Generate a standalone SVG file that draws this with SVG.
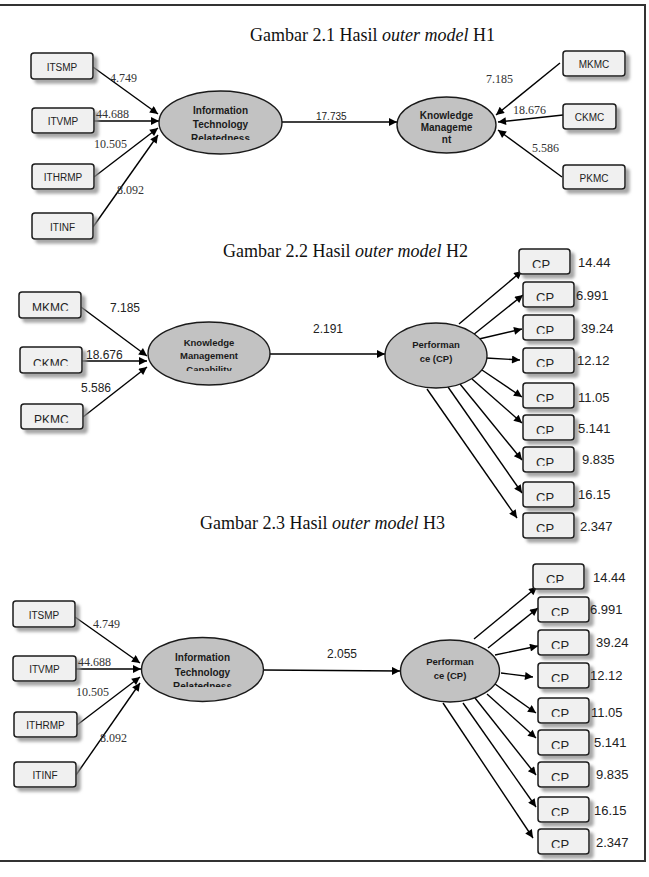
<svg xmlns="http://www.w3.org/2000/svg" width="649" height="877" viewBox="0 0 649 877">
<style>
.frame{fill:none;stroke:#333;stroke-width:2}
.box{fill:#f0f0f0;stroke:#1a1a1a;stroke-width:1.5;filter:url(#sh)}
.ell{fill:#c2c2c2;stroke:#1a1a1a;stroke-width:1.4}
.bl{font-family:"Liberation Sans",Arial,sans-serif;font-size:10px;fill:#222;text-anchor:middle}
.bl2{font-family:"Liberation Sans",Arial,sans-serif;font-size:12px;fill:#222}
.cp{font-family:"Liberation Sans",Arial,sans-serif;font-size:13px;fill:#222}
.et{font-family:"Liberation Sans",Arial,sans-serif;font-weight:bold;font-size:10px;fill:#1a1a1a;text-anchor:middle}
.et2{font-family:"Liberation Sans",Arial,sans-serif;font-weight:bold;font-size:9.5px;fill:#1a1a1a;text-anchor:middle}
.tn{font-family:"Liberation Serif","Times New Roman",serif;font-size:12px;fill:#333}
.an{font-family:"Liberation Sans",Arial,sans-serif;font-size:12px;fill:#222}
.an10{font-family:"Liberation Sans",Arial,sans-serif;font-size:10px;fill:#222}
.val{font-family:"Liberation Sans",Arial,sans-serif;font-size:13px;fill:#222}
.title{font-family:"Liberation Serif","Times New Roman",serif;font-size:18px;fill:#111}
.conn line{stroke:#000;stroke-width:1.4;marker-end:url(#ah)}
</style>
<defs>
<marker id="ah" viewBox="0 0 10 10" refX="10" refY="5" markerWidth="10" markerHeight="8" markerUnits="userSpaceOnUse" orient="auto"><path d="M0,0 L10,5 L0,10 z" fill="#000"/></marker>
<filter id="sh" x="-20%" y="-20%" width="150%" height="160%"><feDropShadow dx="4" dy="4" stdDeviation="1.5" flood-color="#8a8a8a" flood-opacity="0.75"/></filter>
<clipPath id="cutBox"><rect x="-5" y="0" width="80" height="18.8"/></clipPath>
<clipPath id="cutEll"><rect x="-70" y="-40" width="140" height="57.5"/></clipPath>
</defs>
<rect width="649" height="877" fill="#fff"/>
<path class="frame" d="M0,5 H645 V861 H0"/>

<text class="title" x="250" y="41">Gambar 2.1 Hasil <tspan font-style="italic">outer model</tspan> H1</text>
<text class="title" x="223" y="257">Gambar 2.2 Hasil <tspan font-style="italic">outer model</tspan> H2</text>
<text class="title" x="200" y="529">Gambar 2.3 Hasil <tspan font-style="italic">outer model</tspan> H3</text>

<g id="connectors" class="conn">
<line x1="93" y1="67" x2="158" y2="114"/>
<line x1="94" y1="121" x2="159" y2="121"/>
<line x1="94" y1="177" x2="158" y2="128"/>
<line x1="93" y1="227" x2="158" y2="135"/>
<line x1="282" y1="122" x2="397" y2="122"/>
<line x1="560" y1="63" x2="496" y2="115"/>
<line x1="563" y1="115" x2="498" y2="122"/>
<line x1="562" y1="177" x2="498" y2="130"/>

<line x1="81" y1="307" x2="147" y2="356"/>
<line x1="82" y1="361" x2="147" y2="361"/>
<line x1="83" y1="417" x2="147" y2="367"/>
<line x1="269" y1="354" x2="385" y2="354"/>
<line x1="459" y1="324" x2="522" y2="271"/>
<line x1="473" y1="335" x2="523" y2="295"/>
<line x1="479" y1="339" x2="522" y2="329"/>
<line x1="486" y1="358" x2="520" y2="360"/>
<line x1="482" y1="370" x2="522" y2="397"/>
<line x1="472" y1="379" x2="522" y2="423"/>
<line x1="460" y1="384" x2="522" y2="460"/>
<line x1="448" y1="387" x2="522" y2="493"/>
<line x1="427" y1="389" x2="517" y2="518"/>

<line x1="75" y1="617" x2="140" y2="663"/>
<line x1="76" y1="669" x2="141" y2="669"/>
<line x1="77" y1="725" x2="140" y2="677"/>
<line x1="76" y1="775" x2="140" y2="683"/>
<line x1="263" y1="670" x2="400" y2="671"/>
<line x1="474" y1="639" x2="537" y2="587"/>
<line x1="488" y1="648" x2="538" y2="608"/>
<line x1="495" y1="655" x2="538" y2="646"/>
<line x1="501" y1="673" x2="533" y2="677"/>
<line x1="495" y1="684" x2="536" y2="713"/>
<line x1="487" y1="694" x2="536" y2="738"/>
<line x1="475" y1="698" x2="536" y2="775"/>
<line x1="463" y1="703" x2="536" y2="807"/>
<line x1="443" y1="703" x2="533" y2="838"/>
</g>

<!-- H1 nodes -->
<g id="h1-itsmp" transform="translate(31,53)"><rect class="box" width="62" height="26" rx="3"/><text class="bl" x="31" y="17.5">ITSMP</text></g>
<g id="h1-itvmp" transform="translate(32,108)"><rect class="box" width="62" height="25" rx="3"/><text class="bl" x="31" y="17">ITVMP</text></g>
<g id="h1-ithrmp" transform="translate(32,164)"><rect class="box" width="62" height="25" rx="3"/><text class="bl" x="31" y="17">ITHRMP</text></g>
<g id="h1-itinf" transform="translate(32,213)"><rect class="box" width="61" height="26" rx="3"/><text class="bl" x="30.5" y="17.5">ITINF</text></g>
<g id="h1-itr" transform="translate(220.5,122.5)"><ellipse class="ell" rx="61.5" ry="31.5"/><g clip-path="url(#cutEll)"><text class="et" y="-8.5">Information</text><text class="et" y="5.5">Technology</text><text class="et" y="19.5">Relatedness</text></g></g>
<g id="h1-km" transform="translate(446.5,125)"><ellipse class="ell" rx="49.5" ry="28"/><text class="et" y="-6">Knowledge</text><text class="et" y="6">Manageme</text><text class="et" y="18">nt</text></g>
<g id="h1-mkmc" transform="translate(563,51)"><rect class="box" width="62" height="25" rx="3"/><text class="bl" x="31" y="17">MKMC</text></g>
<g id="h1-ckmc" transform="translate(563,104)"><rect class="box" width="53" height="25" rx="3"/><text class="bl" x="26.5" y="17">CKMC</text></g>
<g id="h1-pkmc" transform="translate(563,165)"><rect class="box" width="62" height="24" rx="3"/><text class="bl" x="31" y="16.5">PKMC</text></g>

<!-- H2 nodes -->
<g id="h2-mkmc" transform="translate(19,292)"><rect class="box" width="62" height="26" rx="3"/><text class="bl2" x="13" y="19.6" clip-path="url(#cutBox)">MKMC</text></g>
<g id="h2-ckmc" transform="translate(20,347)"><rect class="box" width="62" height="26" rx="3"/><text class="bl2" x="13" y="20.6" clip-path="url(#cutBox)">CKMC</text></g>
<g id="h2-pkmc" transform="translate(21,404)"><rect class="box" width="62" height="25" rx="3"/><text class="bl2" x="13" y="20" clip-path="url(#cutBox)">PKMC</text></g>
<g id="h2-kmc" transform="translate(209,353.5)"><ellipse class="ell" rx="61" ry="31.5"/><g clip-path="url(#cutEll)"><text class="et2" y="-7.5">Knowledge</text><text class="et2" y="5.5">Management</text><text class="et2" y="19.5">Capability</text></g></g>
<g id="h2-perf" transform="translate(436,355.5)"><ellipse class="ell" rx="51" ry="32.5"/><text class="et2" y="-7.5">Performan</text><text class="et2" y="6.5">ce (CP)</text></g>
<g id="h2-cp1" transform="translate(519,249)"><rect class="box" width="51" height="25" rx="3"/><text class="cp" x="13" y="19.6" clip-path="url(#cutBox)">CP</text></g>
<g id="h2-cp2" transform="translate(523,282)"><rect class="box" width="51" height="25" rx="3"/><text class="cp" x="13" y="19.6" clip-path="url(#cutBox)">CP</text></g>
<g id="h2-cp3" transform="translate(523,315)"><rect class="box" width="51" height="25" rx="3"/><text class="cp" x="13" y="19.6" clip-path="url(#cutBox)">CP</text></g>
<g id="h2-cp4" transform="translate(523,348)"><rect class="box" width="51" height="25" rx="3"/><text class="cp" x="13" y="19.6" clip-path="url(#cutBox)">CP</text></g>
<g id="h2-cp5" transform="translate(523,383)"><rect class="box" width="51" height="25" rx="3"/><text class="cp" x="13" y="19.6" clip-path="url(#cutBox)">CP</text></g>
<g id="h2-cp6" transform="translate(523,415)"><rect class="box" width="51" height="25" rx="3"/><text class="cp" x="13" y="19.6" clip-path="url(#cutBox)">CP</text></g>
<g id="h2-cp7" transform="translate(523,447)"><rect class="box" width="51" height="25" rx="3"/><text class="cp" x="13" y="19.6" clip-path="url(#cutBox)">CP</text></g>
<g id="h2-cp8" transform="translate(523,482)"><rect class="box" width="51" height="25" rx="3"/><text class="cp" x="13" y="19.6" clip-path="url(#cutBox)">CP</text></g>
<g id="h2-cp9" transform="translate(523,513)"><rect class="box" width="51" height="25" rx="3"/><text class="cp" x="13" y="19.6" clip-path="url(#cutBox)">CP</text></g>

<!-- H3 nodes -->
<g id="h3-itsmp" transform="translate(13,601)"><rect class="box" width="62" height="26" rx="3"/><text class="bl" x="31" y="17.5">ITSMP</text></g>
<g id="h3-itvmp" transform="translate(13,656)"><rect class="box" width="63" height="25" rx="3"/><text class="bl" x="31.5" y="17">ITVMP</text></g>
<g id="h3-ithrmp" transform="translate(14,712)"><rect class="box" width="63" height="25" rx="3"/><text class="bl" x="31.5" y="17">ITHRMP</text></g>
<g id="h3-itinf" transform="translate(14,762)"><rect class="box" width="62" height="25" rx="3"/><text class="bl" x="31" y="17">ITINF</text></g>
<g id="h3-itr" transform="translate(202.5,669.5)"><ellipse class="ell" rx="61" ry="32"/><g clip-path="url(#cutEll)"><text class="et" y="-8.5">Information</text><text class="et" y="6">Technology</text><text class="et" y="20.5">Relatedness</text></g></g>
<g id="h3-perf" transform="translate(450,671)"><ellipse class="ell" rx="49.5" ry="31"/><text class="et2" y="-6">Performan</text><text class="et2" y="8">ce (CP)</text></g>
<g id="h3-cp1" transform="translate(533,564)"><rect class="box" width="51" height="25" rx="3"/><text class="cp" x="13" y="19.6" clip-path="url(#cutBox)">CP</text></g>
<g id="h3-cp2" transform="translate(538,597)"><rect class="box" width="51" height="25" rx="3"/><text class="cp" x="13" y="19.6" clip-path="url(#cutBox)">CP</text></g>
<g id="h3-cp3" transform="translate(538,630)"><rect class="box" width="51" height="25" rx="3"/><text class="cp" x="13" y="19.6" clip-path="url(#cutBox)">CP</text></g>
<g id="h3-cp4" transform="translate(538,663)"><rect class="box" width="51" height="25" rx="3"/><text class="cp" x="13" y="19.6" clip-path="url(#cutBox)">CP</text></g>
<g id="h3-cp5" transform="translate(538,698)"><rect class="box" width="51" height="25" rx="3"/><text class="cp" x="13" y="19.6" clip-path="url(#cutBox)">CP</text></g>
<g id="h3-cp6" transform="translate(538,730)"><rect class="box" width="51" height="25" rx="3"/><text class="cp" x="13" y="19.6" clip-path="url(#cutBox)">CP</text></g>
<g id="h3-cp7" transform="translate(538,762)"><rect class="box" width="51" height="25" rx="3"/><text class="cp" x="13" y="19.6" clip-path="url(#cutBox)">CP</text></g>
<g id="h3-cp8" transform="translate(538,797)"><rect class="box" width="51" height="25" rx="3"/><text class="cp" x="13" y="19.6" clip-path="url(#cutBox)">CP</text></g>
<g id="h3-cp9" transform="translate(538,829)"><rect class="box" width="51" height="25" rx="3"/><text class="cp" x="13" y="19.6" clip-path="url(#cutBox)">CP</text></g>

<g id="labels">
<text class="tn" x="110" y="82">4.749</text>
<text class="tn" x="96" y="118">44.688</text>
<text class="tn" x="94" y="148">10.505</text>
<text class="tn" x="117" y="194">8.092</text>
<text class="an10" x="316" y="120">17.735</text>
<text class="tn" x="486" y="83">7.185</text>
<text class="tn" x="513" y="114">18.676</text>
<text class="tn" x="532" y="152">5.586</text>

<text class="an" x="110" y="312">7.185</text>
<text class="an" x="86" y="359">18.676</text>
<text class="an" x="81" y="392">5.586</text>
<text class="an" x="313" y="333">2.191</text>
<text class="val" x="578" y="267">14.44</text>
<text class="val" x="576" y="300">6.991</text>
<text class="val" x="581" y="333">39.24</text>
<text class="val" x="577" y="365">12.12</text>
<text class="val" x="578" y="402">11.05</text>
<text class="val" x="578" y="433">5.141</text>
<text class="val" x="582" y="464">9.835</text>
<text class="val" x="578" y="499">16.15</text>
<text class="val" x="580" y="531">2.347</text>

<text class="tn" x="93" y="628">4.749</text>
<text class="tn" x="78" y="666">44.688</text>
<text class="tn" x="76" y="696">10.505</text>
<text class="tn" x="100" y="742">8.092</text>
<text class="an" x="327" y="658">2.055</text>
<text class="val" x="593" y="582">14.44</text>
<text class="val" x="590" y="614">6.991</text>
<text class="val" x="596" y="647">39.24</text>
<text class="val" x="590" y="680">12.12</text>
<text class="val" x="591" y="717">11.05</text>
<text class="val" x="594" y="747">5.141</text>
<text class="val" x="596" y="779">9.835</text>
<text class="val" x="594" y="815">16.15</text>
<text class="val" x="596" y="847">2.347</text>
</g>
</svg>
